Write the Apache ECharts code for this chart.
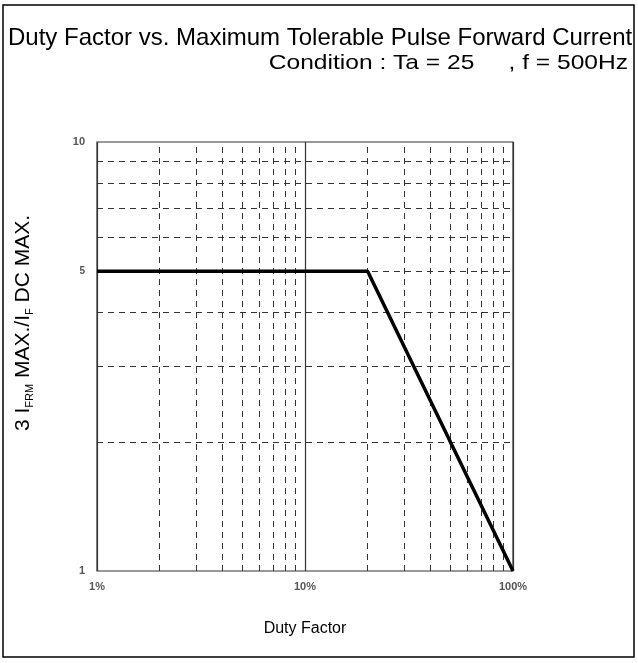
<!DOCTYPE html>
<html>
<head>
<meta charset="utf-8">
<script src="https://cdn.jsdelivr.net/npm/echarts@6/dist/echarts.min.js"></script>
<style>html,body{margin:0;padding:0;background:#fff;}#c{width:638px;height:663px;}</style>
</head>
<body>
<div id="c"></div>
<script>
// Data
const dutyPct = [1, 20, 100];          // Duty factor (%)
const ratio = [5, 5, 1];               // IFRM MAX / IF DC MAX
const minorX = [2, 3, 4, 5, 6, 7, 8, 9, 20, 30, 40, 50, 60, 70, 80, 90];
const minorY = [2, 3, 4, 5, 6, 7, 8, 9];
const extraYLabels = [5];

const chart = echarts.init(document.getElementById('c'));
const font = "'Liberation Sans', Arial, sans-serif";
const tickFont = "'Liberation Sans Narrow', 'Liberation Sans', Arial, sans-serif";
const dashStyle = { color: '#333', width: 1, type: [6, 5] };

const vLines = minorX.map(v => ({ xAxis: v }));
const hLines = minorY.map(v => {
  const o = { yAxis: v };
  if (extraYLabels.includes(v)) {
    o.label = { show: true, position: 'start', formatter: String(v), distance: 12,
      fontSize: 10, fontWeight: 'bold', color: '#555', fontFamily: tickFont };
  }
  return o;
});

chart.setOption({
  animation: false,
  backgroundColor: '#fff',
  graphic: [
    { type: 'rect', shape: { x: 3, y: 5, width: 631, height: 652 },
      style: { fill: 'none', stroke: '#000', lineWidth: 1.5 }, silent: true },
    { type: 'text', x: 8, y: 38, silent: true,
      style: { text: 'Duty Factor vs. Maximum Tolerable Pulse Forward Current', fontFamily: font,
        fontSize: 24, fill: '#000', align: 'left', verticalAlign: 'middle' } },
    { type: 'text', x: 628, y: 63, scaleX: 1.17, originX: 0, originY: 0, silent: true,
      style: { text: 'Condition : Ta = 25     , f = 500Hz', fontFamily: font,
        fontSize: 21, fill: '#000', align: 'right', verticalAlign: 'middle' } },
    { type: 'text', x: 23, y: 323, rotation: Math.PI / 2, silent: true,
      style: { text: '3 I{sub|FRM} MAX./I{sub|F} DC MAX.', fontFamily: font, fontSize: 21,
        fill: '#000', align: 'center', verticalAlign: 'middle', lineHeight: 24,
        rich: { sub: { fontFamily: font, fontSize: 11, fill: '#000', lineHeight: 12, verticalAlign: 'bottom' } } } }
  ],
  grid: { left: 97, right: 125, top: 142, bottom: 92, show: true, borderColor: '#333', borderWidth: 1.2 },
  xAxis: {
    type: 'log', logBase: 10, min: 1, max: 100,
    name: 'Duty Factor', nameLocation: 'middle', nameGap: 50,
    nameTextStyle: { fontFamily: font, fontSize: 16, color: '#000' },
    axisLine: { show: false }, axisTick: { show: false },
    axisLabel: { formatter: '{value}%', margin: 10, fontSize: 11, fontWeight: 'bold', color: '#555', fontFamily: tickFont },
    splitLine: { show: true, lineStyle: { color: '#333', width: 1.2, type: 'solid' } }
  },
  yAxis: {
    type: 'log', logBase: 10, min: 1, max: 10,
    axisLine: { show: false }, axisTick: { show: false },
    axisLabel: { margin: 12, fontSize: 11, fontWeight: 'bold', color: '#555', fontFamily: tickFont },
    splitLine: { show: false }
  },
  series: [
    { type: 'line', data: [], z: 1,
      markLine: { silent: true, symbol: 'none', label: { show: false }, lineStyle: dashStyle,
        data: vLines.concat(hLines), animation: false } },
    { type: 'line', z: 5, symbol: 'none',
      data: dutyPct.map((d, i) => [d, ratio[i]]),
      lineStyle: { color: '#000', width: 3.5 } }
  ]
});
</script>
</body>
</html>
